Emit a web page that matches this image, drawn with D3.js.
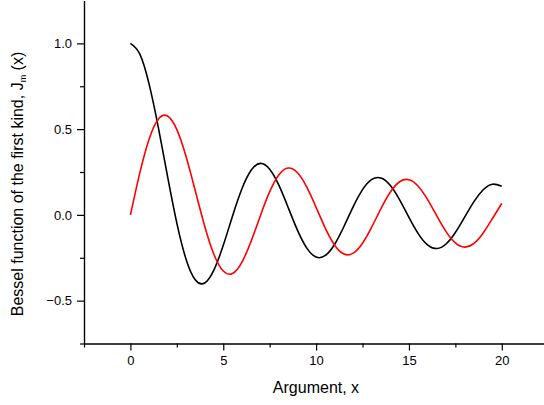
<!DOCTYPE html>
<html>
<head>
<meta charset="utf-8">
<script src="https://cdn.jsdelivr.net/npm/d3@7"></script>
<style>
  body { margin: 0; background: #fff; }
  svg { display: block; font-family: Arial, "Liberation Sans", sans-serif; }
</style>
</head>
<body>
<svg></svg>
<script>
// argument values, step 0.5 from 0 to 20
let xs = d3.range(0, 20.01, 0.5)

// J0(x), black curve
let j0 = [1.0000, 0.9385, 0.7652, 0.5118, 0.2239, -0.0484, -0.2601, -0.3801, -0.3971, -0.3205,
  -0.1776, -0.0068, 0.1506, 0.2601, 0.3001, 0.2663, 0.1717, 0.0419, -0.0903, -0.1939,
  -0.2459, -0.2366, -0.1712, -0.0677, 0.0477, 0.1469, 0.2069, 0.2150, 0.1711, 0.0877,
  -0.0142, -0.1092, -0.1749, -0.1964, -0.1699, -0.1031, -0.0134, 0.0773, 0.1466, 0.1789,
  0.1670]

// J1(x), red curve
let j1 = [0.0000, 0.2423, 0.4401, 0.5579, 0.5767, 0.4971, 0.3391, 0.1374, -0.0660, -0.2311,
  -0.3276, -0.3414, -0.2767, -0.1538, -0.0047, 0.1352, 0.2346, 0.2731, 0.2453, 0.1613,
  0.0435, -0.0789, -0.1768, -0.2282, -0.2234, -0.1653, -0.0703, 0.0380, 0.1334, 0.1933,
  0.2051, 0.1672, 0.0904, -0.0058, -0.0977, -0.1634, -0.1880, -0.1665, -0.1057, -0.0209,
  0.0668]

let xMajor = [0, 5, 10, 15, 20]
let xMinor = [-2.5, 2.5, 7.5, 12.5, 17.5, 22.5]
let yMajor = [-0.5, 0, 0.5, 1.0]
let yMinor = [-0.75, -0.25, 0.25, 0.75]

let width = 544
let height = 405

let svg = d3.select('svg')
  .attr('width', width)
  .attr('height', height)

let xScale = d3.scaleLinear()
  .domain([-2.5, 22.5])
  .range([84, 548.2])

let yScale = d3.scaleLinear()
  .domain([-0.75, 1.25])
  .range([343.5, 0.5])

let axisY0 = yScale(-0.75)
let axisX0 = xScale(-2.5)

// curves
let line = (vals) => d3.line()
  .x((d, i) => xScale(xs[i]))
  .y((d) => yScale(d))
  .curve(d3.curveNatural)(vals)

svg.append('path')
  .attr('d', line(j0))
  .attr('fill', 'none')
  .attr('stroke', '#000')
  .attr('stroke-width', 1.6)

svg.append('path')
  .attr('d', line(j1))
  .attr('fill', 'none')
  .attr('stroke', '#ff0000')
  .attr('stroke-width', 1.6)

// axes
let styleAxis = (g) => {
  g.select('.domain').attr('stroke-width', 1.2)
  g.selectAll('.tick line').attr('stroke-width', 1.2)
  g.selectAll('text').attr('font-size', 13).attr('fill', '#000')
}

svg.append('g')
  .attr('transform', 'translate(0,' + axisY0 + ')')
  .call(d3.axisBottom(xScale).tickValues(xMinor).tickSize(4).tickFormat('').tickSizeOuter(0))
  .call(styleAxis)

svg.append('g')
  .attr('transform', 'translate(0,' + axisY0 + ')')
  .call(d3.axisBottom(xScale).tickValues(xMajor).tickSize(7).tickPadding(5).tickSizeOuter(0))
  .call(styleAxis)

svg.append('g')
  .attr('transform', 'translate(' + axisX0 + ',0)')
  .call(d3.axisLeft(yScale).tickValues(yMinor).tickSize(4).tickFormat('').tickSizeOuter(0))
  .call(styleAxis)

svg.append('g')
  .attr('transform', 'translate(' + axisX0 + ',0)')
  .call(d3.axisLeft(yScale).tickValues(yMajor).tickSize(7).tickPadding(5)
    .tickFormat(d3.format('.1f')).tickSizeOuter(0))
  .call(styleAxis)

// axis titles
svg.append('text')
  .attr('x', 316)
  .attr('y', 393)
  .attr('text-anchor', 'middle')
  .attr('font-size', 16)
  .text('Argument, x')

let yTitle = svg.append('text')
  .attr('transform', 'translate(23,184) rotate(-90)')
  .attr('text-anchor', 'middle')
  .attr('font-size', 16)

yTitle.append('tspan').text('Bessel function of the first kind, J')
yTitle.append('tspan').attr('font-size', 9).attr('dy', 3).text('m')
yTitle.append('tspan').attr('dy', -3).text(' (x)')
</script>
</body>
</html>
